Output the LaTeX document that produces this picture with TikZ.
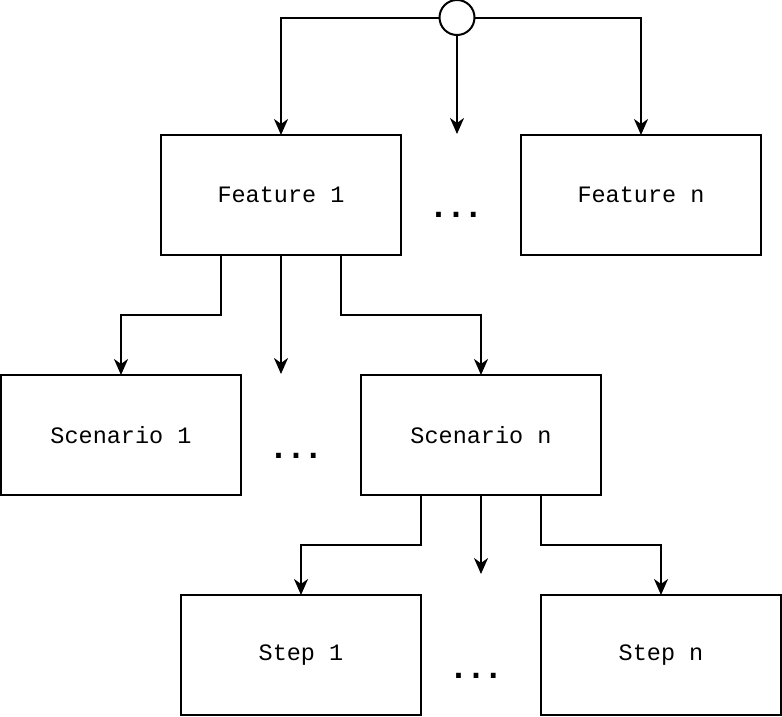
\documentclass[tikz,border=0pt]{standalone}
\usepackage{fontspec}
\setmonofont{Liberation Mono}
\newfontfamily\dotsfont{DejaVu Sans Mono}
\usetikzlibrary{arrows.meta}
\begin{document}
\begin{tikzpicture}[x=1pt,y=-1pt,
  box/.style={draw,line width=2pt,outer sep=0pt,minimum width=240pt,minimum height=120pt,inner sep=0pt,font=\ttfamily\fontsize{23.5}{26}\selectfont,anchor=north west},
  con/.style={line width=2pt,-{Stealth[length=16pt,width=14pt,inset=5pt]}},
  dots/.style={font=\dotsfont\bfseries\fontsize{29}{30}\selectfont,inner sep=0pt,anchor=base}]
\useasboundingbox (0,0) rectangle (782,716);
\node[draw,circle,line width=2pt,outer sep=0pt,minimum size=35pt,inner sep=0pt] (top) at (457,17.5) {};
\node[box] (f1) at (161,135) {Feature 1};
\node[box] (fn) at (521,135) {Feature n};
\node[box] (s1) at (1,375) {Scenario 1};
\node[box] (sn) at (361,375) {Scenario n};
\node[box] (t1) at (181,595) {Step 1};
\node[box] (tn) at (541,595) {Step n};
\node[dots] (d1) at (456,217.5) {...};
\node[dots] (d2) at (296,458) {...};
\node[dots] (d3) at (476,678) {...};
\coordinate (c1) at (457,134);
\coordinate (c2) at (281,374);
\coordinate (c3) at (481,574);
\draw[con] (top.west) -| (f1.north);
\draw[con] (top.east) -| (fn.north);
\draw[con] (top.south) -- (c1);
\draw[con] ([xshift=-60pt]f1.south) |- (121,315) -- (s1.north);
\draw[con] (f1.south) -- (c2);
\draw[con] ([xshift=60pt]f1.south) |- (481,315) -- (sn.north);
\draw[con] ([xshift=-60pt]sn.south) |- (301,545) -- (t1.north);
\draw[con] (sn.south) -- (c3);
\draw[con] ([xshift=60pt]sn.south) |- (661,545) -- (tn.north);
\end{tikzpicture}
\end{document}
